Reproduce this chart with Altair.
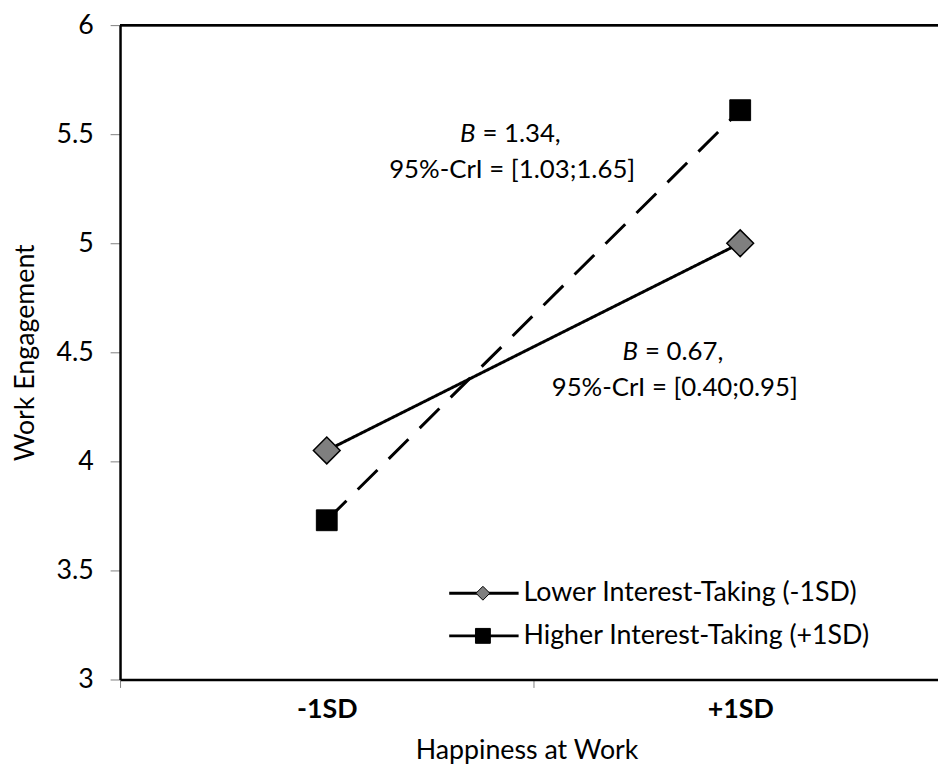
import json
import altair as alt
import pandas as pd

# ---- data ----
levels = ["-1SD", "+1SD"]
series = ["Lower Interest-Taking (-1SD)", "Higher Interest-Taking (+1SD)"]
lower_vals = [4.05, 5.00]
higher_vals = [3.73, 5.61]
y_ticks = [3, 3.5, 4, 4.5, 5, 5.5, 6]

ann_b = ["1.34", "0.67"]
ann_ci = ["[1.03;1.65]", "[0.40;0.95]"]
ann_y = [5.5, 4.5]

df = pd.DataFrame({
    "happiness": levels + levels,
    "series": [series[0]] * 2 + [series[1]] * 2,
    "engagement": lower_vals + higher_vals,
})

FONT = "Lato"
FS = 27
AFS = 26

W = 825          # visible plot width (the plot area runs past the page edge)
STEP = 417       # pixel width of one category slot
LEVELS_JS = json.dumps(levels)


def place(ch):
    # category -> slot centre (0.5, 1.5) on a linear scale
    return ch.transform_calculate(xpos=f"indexof({LEVELS_JS}, datum.happiness) + 0.5")


x_scale = alt.Scale(domain=[0, W / STEP], nice=False, zero=False)
y_scale = alt.Scale(domain=[3, 6], nice=False, zero=False)

x_enc = alt.X("xpos:Q", scale=x_scale,
              axis=alt.Axis(title="Happiness at Work", values=[0, 1],
                            labelExpr=f"{LEVELS_JS}[datum.value]", labelOffset=STEP / 2,
                            labelFlush=False, labelOverlap=False, labelFontWeight="bold",
                            tickSize=8, labelPadding=9, labelAngle=0,
                            titleX=410, titleY=80, titleBaseline="alphabetic"))
y_enc = alt.Y("engagement:Q", scale=y_scale,
              axis=alt.Axis(title="Work Engagement", values=y_ticks, format="~g", tickSize=10,
                            labelPadding=17, titlePadding=17))

base = place(alt.Chart(df))

lines = base.mark_line(color="black", strokeWidth=3).encode(
    x=x_enc, y=y_enc,
    detail="series:N",
    strokeDash=alt.StrokeDash("series:N", scale=alt.Scale(domain=series, range=[[1, 0], [28, 16]]), legend=None),
)

pts_lower = base.transform_filter(alt.datum.series == series[0]).mark_point(
    shape="diamond", filled=True, fill="#7f7f7f", stroke="black", strokeWidth=1.5, size=729, opacity=1
).encode(x=x_enc, y=y_enc)

pts_higher = base.transform_filter(alt.datum.series == series[1]).mark_point(
    shape="square", filled=True, fill="black", stroke="black", strokeWidth=1, size=441, opacity=1
).encode(x=x_enc, y=y_enc)

top_rule = base.mark_rule(color="black", strokeWidth=2.5).encode(y=alt.datum(6))

# ---- hand-built legend (layout in pixels) ----
leg_shapes = ["diamond", "square"]
leg_fill = ["#7f7f7f", "black"]
leg_size = [196, 225]
leg_y = [573, 616]
legend_layers = []
for i in range(2):
    ldf = pd.DataFrame({"label": [series[i]]})
    l = alt.Chart(ldf)
    legend_layers.append(l.mark_rule(color="black", strokeWidth=3).encode(
        x=alt.value(332), x2=alt.value(402), y=alt.value(leg_y[i])))
    legend_layers.append(l.mark_point(shape=leg_shapes[i], filled=True, fill=leg_fill[i], stroke="black",
                                      strokeWidth=1, size=leg_size[i], opacity=1).encode(
        x=alt.value(366), y=alt.value(leg_y[i])))
    legend_layers.append(l.mark_text(font=FONT, fontSize=FS, align="left", baseline="middle",
                                     color="black").encode(
        x=alt.value(407), y=alt.value(leg_y[i]), text="label:N"))

ann_layers = []
offsets = [("-1SD", 187), ("+1SD", -66)]
for i in range(2):
    cat, dx = offsets[i]
    adf = pd.DataFrame({"happiness": [cat], "engagement": [ann_y[i]],
                        "b": ["= " + ann_b[i] + ","], "ci": ["95%-CrI = " + ann_ci[i]]})
    a = place(alt.Chart(adf))
    ann_layers.append(a.mark_text(text="B", fontStyle="italic", font=FONT, fontSize=AFS, align="right",
                                  baseline="middle", dx=dx - 37, color="black").encode(x=x_enc, y=y_enc))
    ann_layers.append(a.mark_text(font=FONT, fontSize=AFS, align="left", baseline="middle",
                                  dx=dx - 30, color="black").encode(x=x_enc, y=y_enc, text="b:N"))
    ann_layers.append(a.mark_text(font=FONT, fontSize=AFS, align="center", baseline="middle",
                                  dx=dx, dy=36, color="black").encode(x=x_enc, y=y_enc, text="ci:N"))

chart = alt.layer(top_rule, lines, pts_lower, pts_higher, *legend_layers, *ann_layers).properties(
    width=W, height=660,
    autosize=alt.AutoSizeParams(type="none"),
    padding={"left": 113, "top": 14, "right": 0, "bottom": 86},
).configure_view(stroke=None).configure_axis(
    grid=False, domainColor="black", domainWidth=2.5, tickColor="#7f7f7f", tickWidth=1,
    labelFont=FONT, labelFontSize=FS, labelColor="black",
    titleFont=FONT, titleFontSize=FS, titleColor="black", titleFontWeight="normal",
)

chart.save("out.html", embed_options={"renderer": "svg", "actions": False})
